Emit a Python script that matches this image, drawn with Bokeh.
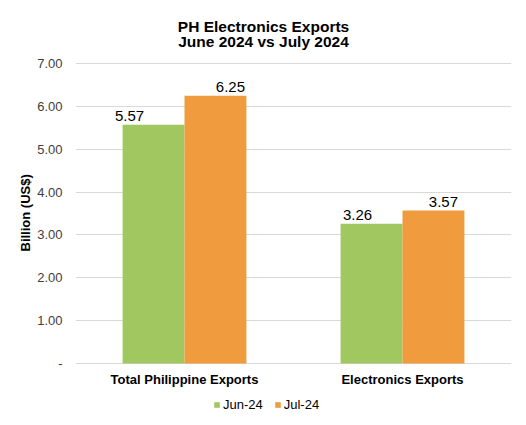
from bokeh.plotting import figure
from bokeh.models import (ColumnDataSource, FactorRange, Range1d, FixedTicker,
                          Label, LabelSet, Legend, LegendItem, Title)
from bokeh.core.properties import value
from bokeh.transform import dodge
from bokeh.embed import file_html
from bokeh.resources import INLINE

categories = ["Total Philippine Exports", "Electronics Exports"]
jun_24 = [5.57, 3.26]
jul_24 = [6.25, 3.57]
series_names = ["Jun-24", "Jul-24"]
y_ticks = [0, 1, 2, 3, 4, 5, 6, 7]
y_tick_labels = ["-", "1.00", "2.00", "3.00", "4.00", "5.00", "6.00", "7.00"]
title_lines = ["PH Electronics Exports", "June 2024 vs July 2024"]

FONT = "Liberation Sans"
GREEN = "#A1C860"
ORANGE = "#EF9B3E"
GRID = "#D9D9D9"

source = ColumnDataSource(dict(
    cat=categories,
    jun=jun_24,
    jul=jul_24,
    jun_txt=["%.2f" % v for v in jun_24],
    jul_txt=["%.2f" % v for v in jul_24],
))

# the frame covers the full height so title and legend can sit inside it;
# 0..7 takes 300px, 63px above it and 62px below
px_per_unit = 300 / 7
y_top = 7 + 63 / px_per_unit
y_bottom = 0 - 62 / px_per_unit

p = figure(x_range=FactorRange(*categories), y_range=Range1d(y_bottom, y_top),
           width=526, height=425, output_backend="svg", toolbar_location=None,
           title=None, x_axis_location=None,
           min_border_left=75, min_border_right=15, min_border_top=0,
           min_border_bottom=0)
p.outline_line_color = None
p.background_fill_color = "white"
p.border_fill_color = "white"

# title lines, centred on the whole chart (frame-relative screen units)
for txt, yy in zip(title_lines, [399.5, 384]):
    p.add_layout(Label(x=188, y=yy, x_units="screen", y_units="screen",
                       text=txt, text_align="center", text_baseline="alphabetic",
                       text_font=FONT, text_font_size="15.5px",
                       text_font_style="bold", text_color="#000000"))

bw = 0.284
r_jun = p.vbar(x=dodge("cat", -bw / 2, range=p.x_range), top="jun", width=bw,
               source=source, color=GREEN, line_color=None)
r_jul = p.vbar(x=dodge("cat", bw / 2, range=p.x_range), top="jul", width=bw,
               source=source, color=ORANGE, line_color=None)

# value labels (nudged sideways like the original)
for col, txt, off, dx in [("jun", "jun_txt", -bw / 2, [-24, -14]),
                          ("jul", "jul_txt", bw / 2, [15, 10])]:
    source.data[col + "_dx"] = dx
    p.add_layout(LabelSet(x=dodge("cat", off, range=p.x_range), y=col, text=txt,
                          source=source, text_align="center",
                          text_baseline="alphabetic", y_offset=4,
                          x_offset=col + "_dx",
                          text_font=value(FONT), text_font_size=value("15px"),
                          text_color="#000000"))

# category labels under the zero line
p.text(x="cat", y=0, text="cat", source=source, text_align="center",
       text_baseline="alphabetic", y_offset=16,
       text_font=value(FONT), text_font_size=value("13px"),
       text_font_style="bold", text_color="#000000")

# y axis
p.yaxis.ticker = FixedTicker(ticks=y_ticks)
p.yaxis.major_label_overrides = {t: l for t, l in zip(y_ticks, y_tick_labels)}
p.yaxis.axis_line_color = None
p.yaxis.major_tick_line_color = None
p.yaxis.minor_tick_line_color = None
p.yaxis.major_tick_out = 0
p.yaxis.major_tick_in = 0
p.yaxis.major_label_standoff = 13
p.yaxis.major_label_text_font = FONT
p.yaxis.major_label_text_font_size = "13px"
p.yaxis.major_label_text_color = "#404040"

# axis title as a side title so it stays centred on the 0-7 part
p.add_layout(Title(text="Billion (US$)", align="left", offset=174,
                   vertical_align="middle", standoff=2,
                   text_font=FONT, text_font_size="13px",
                   text_font_style="bold", text_color="#000000"), "left")

p.xgrid.grid_line_color = None
p.ygrid.ticker = FixedTicker(ticks=y_ticks)
p.ygrid.grid_line_color = GRID
p.ygrid.grid_line_width = 1

legend = Legend(items=[LegendItem(label=series_names[0], renderers=[r_jun]),
                       LegendItem(label=series_names[1], renderers=[r_jul])],
                location=(138, 13), orientation="horizontal",
                border_line_color=None, background_fill_alpha=0,
                padding=0, margin=0, spacing=11,
                glyph_width=7, glyph_height=7, label_standoff=3,
                label_height=14,
                label_text_font=FONT, label_text_font_size="13px",
                label_text_color="#000000")
p.add_layout(legend)

open("out.html", "w").write(file_html(p, INLINE))
